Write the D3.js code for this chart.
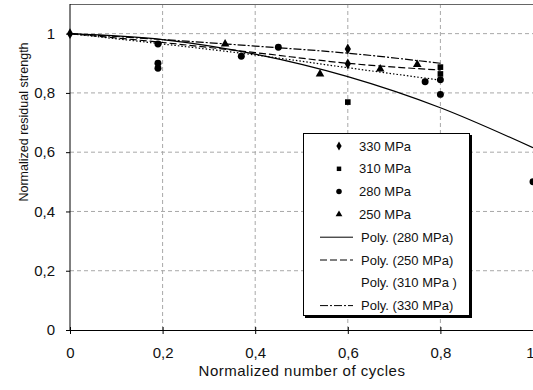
<!DOCTYPE html>
<html>
<head>
<meta charset="utf-8">
<script src="https://cdn.jsdelivr.net/npm/d3@7"></script>
<style>
  body { margin: 0; background: #fff; }
  svg { display: block; font-family: "Liberation Sans", Arial, sans-serif; }
</style>
</head>
<body>
<svg id="chart"></svg>
<script>
const pts330 = [[0, 1], [0.6, 0.948], [0.6, 0.898]];
const pts310 = [[0.6, 0.769], [0.8, 0.887], [0.8, 0.864]];
const pts280 = [[0.19, 0.965], [0.19, 0.9], [0.19, 0.883], [0.37, 0.924], [0.45, 0.954],
                [0.767, 0.838], [0.8, 0.844], [0.8, 0.795], [1, 0.5]];
const pts250 = [[0.335, 0.965], [0.54, 0.864], [0.67, 0.881], [0.75, 0.896]];

// polynomial trendlines
const trend280 = [[0, 1], [0.2, 0.98], [0.4, 0.931], [0.6, 0.855], [0.8, 0.75], [1, 0.615]];
const trend250 = [[0, 1], [0.2, 0.97], [0.4, 0.936], [0.6, 0.9], [0.8, 0.877]];
const trend310 = [[0, 1], [0.2, 0.965], [0.4, 0.928], [0.6, 0.885], [0.8, 0.843]];
const trend330 = [[0, 1], [0.2, 0.98], [0.4, 0.958], [0.6, 0.934], [0.8, 0.9]];

const xTicks = [0, 0.2, 0.4, 0.6, 0.8, 1];
const yTicks = [0, 0.2, 0.4, 0.6, 0.8, 1];
const fmt = d => String(d).replace(".", ",");

const width = 533, height = 390;
const mLeft = 70, mRight = 533, mTop = 4, mBottom = 330;
const ink = "#111";

const svg = d3.select("#chart").attr("width", width).attr("height", height);

const x = d3.scaleLinear().domain([0, 1]).range([mLeft, mRight]);
const y = d3.scaleLinear().domain([0, 1.1]).range([mBottom, mTop]);

// grid
svg.append("g")
   .selectAll("line")
   .data(xTicks.filter(d => d > 0 && d < 1))
   .join("line")
   .attr("x1", d => x(d)).attr("x2", d => x(d))
   .attr("y1", mTop).attr("y2", mBottom)
   .attr("stroke", "#a8a8a8").attr("stroke-dasharray", "4,3");

svg.append("g")
   .selectAll("line")
   .data(yTicks.filter(d => d > 0))
   .join("line")
   .attr("x1", mLeft).attr("x2", mRight)
   .attr("y1", d => y(d)).attr("y2", d => y(d))
   .attr("stroke", "#a8a8a8").attr("stroke-dasharray", "4,3");

// top border
svg.append("line")
   .attr("x1", mLeft).attr("x2", mRight)
   .attr("y1", y(1.1) + 0.5).attr("y2", y(1.1) + 0.5)
   .attr("stroke", "#666");

// axes
const xAxis = svg.append("g")
   .attr("transform", `translate(0, ${mBottom})`)
   .call(d3.axisBottom(x).tickValues(xTicks).tickFormat(fmt).tickSize(4).tickPadding(13));
const yAxis = svg.append("g")
   .attr("transform", `translate(${mLeft}, 0)`)
   .call(d3.axisLeft(y).tickValues(yTicks).tickFormat(fmt).tickSize(4).tickPadding(11));

[xAxis, yAxis].forEach(a => {
  a.select(".domain").attr("stroke", "#000");
  a.selectAll(".tick line").attr("stroke", "#000");
  a.selectAll("text").attr("font-size", 15).attr("font-family", "Liberation Sans, Arial, sans-serif").attr("fill", ink);
});
yAxis.select(".domain").attr("d", `M0,${mBottom}V${mTop}`);
xAxis.selectAll(".tick line").attr("y1", -3);
// keep the last label inside the frame
xAxis.selectAll(".tick text").filter(d => d === 1).attr("text-anchor", "end").attr("dx", 1);

svg.append("text")
   .attr("x", 302).attr("y", 376)
   .attr("text-anchor", "middle").attr("font-size", 15).attr("letter-spacing", 0.5).attr("fill", ink)
   .text("Normalized number of cycles");

svg.append("text")
   .attr("transform", "translate(28, 122) rotate(-90)")
   .attr("text-anchor", "middle").attr("font-size", 12.5).attr("fill", ink)
   .text("Normalized residual strength");

// trendlines
const line = d3.line().x(d => x(d[0])).y(d => y(d[1])).curve(d3.curveMonotoneX);
const trends = [
  { data: trend280, dash: null },
  { data: trend250, dash: "7,3" },
  { data: trend310, dash: "1.5,2" },
  { data: trend330, dash: "8,2,2,2" }
];
svg.append("g")
   .selectAll("path")
   .data(trends)
   .join("path")
   .attr("d", d => line(d.data))
   .attr("fill", "none")
   .attr("stroke", "#000")
   .attr("stroke-width", 1.2)
   .attr("stroke-dasharray", d => d.dash);

// markers
const symbols = {
  s330: d3.symbol().type(d3.symbolDiamond).size(34),
  s310: d3.symbol().type(d3.symbolSquare).size(32),
  s280: d3.symbol().type(d3.symbolCircle).size(38),
  s250: d3.symbol().type(d3.symbolTriangle).size(32)
};
const series = [
  { data: pts330, sym: symbols.s330 },
  { data: pts310, sym: symbols.s310 },
  { data: pts280, sym: symbols.s280 },
  { data: pts250, sym: symbols.s250 }
];
series.forEach(s => {
  svg.append("g")
     .selectAll("path")
     .data(s.data)
     .join("path")
     .attr("d", s.sym)
     .attr("transform", d => `translate(${x(d[0])}, ${y(d[1])})`)
     .attr("fill", "#000");
});

// legend
const lg = svg.append("g");
lg.append("rect").attr("x", 305).attr("y", 135).attr("width", 167).attr("height", 183).attr("fill", "#000");
lg.append("rect").attr("x", 303.5).attr("y", 133.5).attr("width", 166).attr("height", 182)
  .attr("fill", "#fff").attr("stroke", "#000");

const legendItems = [
  { label: "330 MPa", sym: "s330" },
  { label: "310 MPa", sym: "s310" },
  { label: "280 MPa", sym: "s280" },
  { label: "250 MPa", sym: "s250" },
  { label: "Poly. (280 MPa)", dash: "none" },
  { label: "Poly. (250 MPa)", dash: "7,3" },
  { label: "Poly. (310 MPa )", dash: null },
  { label: "Poly. (330 MPa)", dash: "8,2,2,2" }
];
const legendSym = {
  s330: d3.symbol().type(d3.symbolDiamond).size(24),
  s310: d3.symbol().type(d3.symbolSquare).size(20),
  s280: d3.symbol().type(d3.symbolCircle).size(24),
  s250: d3.symbol().type(d3.symbolTriangle).size(20)
};
legendItems.forEach((d, i) => {
  const cy = 146 + i * 22.8;
  if (d.sym) {
    lg.append("path").attr("d", legendSym[d.sym]()).attr("transform", `translate(339, ${cy})`).attr("fill", "#000");
    lg.append("text").attr("x", 359).attr("y", cy + 4.5).attr("font-size", 13).attr("fill", ink).text(d.label);
  } else {
    if (d.dash !== null) {
      lg.append("line").attr("x1", 320).attr("x2", 353).attr("y1", cy).attr("y2", cy)
        .attr("stroke", "#000").attr("stroke-dasharray", d.dash === "none" ? null : d.dash);
    }
    lg.append("text").attr("x", 361).attr("y", cy + 4.5).attr("font-size", 13).attr("fill", ink).text(d.label);
  }
});
</script>
</body>
</html>
